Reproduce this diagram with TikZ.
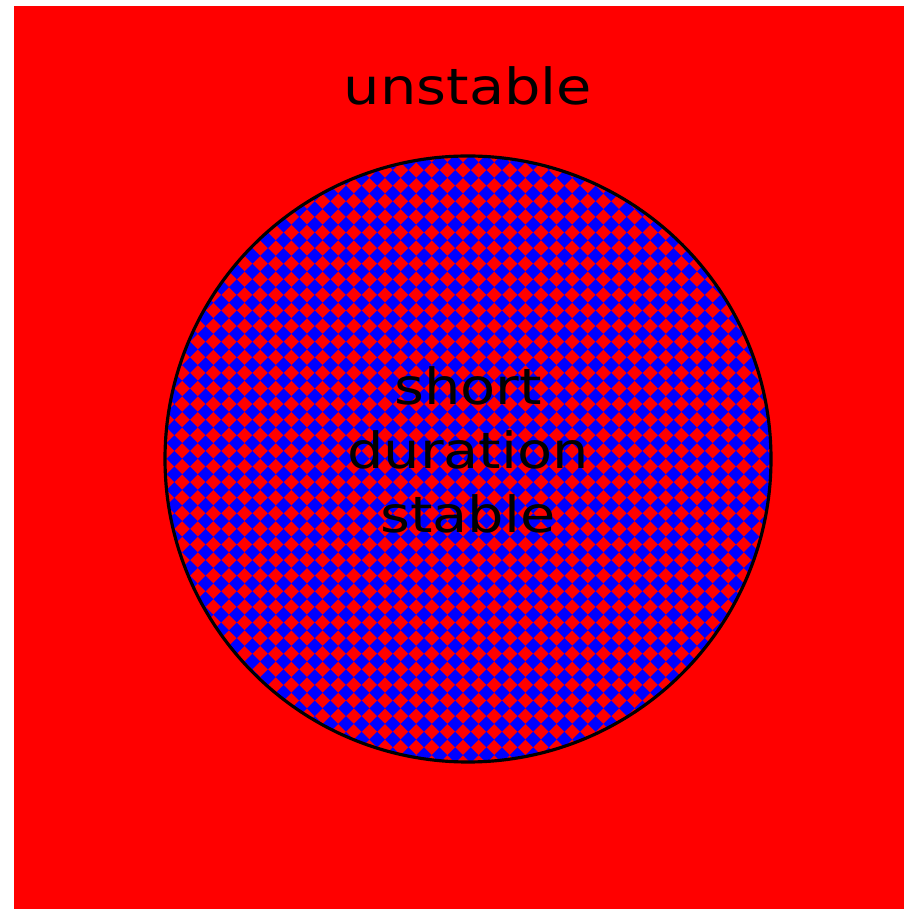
\documentclass[tikz,border=0pt]{standalone}
\usepackage{fontspec}
\setmainfont{DejaVu Sans}
\usepackage{tikz}
\usetikzlibrary{positioning}
\definecolor{myred}{RGB}{255,0,0}
\definecolor{myblue}{RGB}{0,0,255}
\tikzset{
  field/.style={fill=myred, draw=none},
  zone/.style={circle, draw=black, line width=0.9pt, minimum size=6.06cm, inner sep=0pt, fill=myblue},
  label/.style={font=\fontsize{14.2}{18.2}\selectfont, text=black, align=center, xscale=1.15, inner sep=0pt}
}
\newcommand{\pitch}{0.156}
\newcommand{\half}{0.076}

\begin{document}
\begin{tikzpicture}
  \useasboundingbox (0,0) rectangle (9.04,9.09);
  \fill[field] (0.14,0) rectangle (9.04,9.03);
  % diamond checks, placed from the disc centre
  \node[zone, path picture={
      \fill[myred] \foreach \i in {-21,...,21} { \foreach \j in {-21,...,21} {
        ({-0.05+\i*\pitch},{-0.075+\j*\pitch}) +(\half,0) -- +(0,\half) -- +(-\half,0) -- +(0,-\half) -- cycle } };
    }] (disc) at (4.68,4.50) {};
  \node[label, anchor=base] (outer) at (4.68,8.04) {unstable};
  \node[label] (inner) at (4.68,4.59) {short\\duration\\stable};
\end{tikzpicture}
\end{document}
